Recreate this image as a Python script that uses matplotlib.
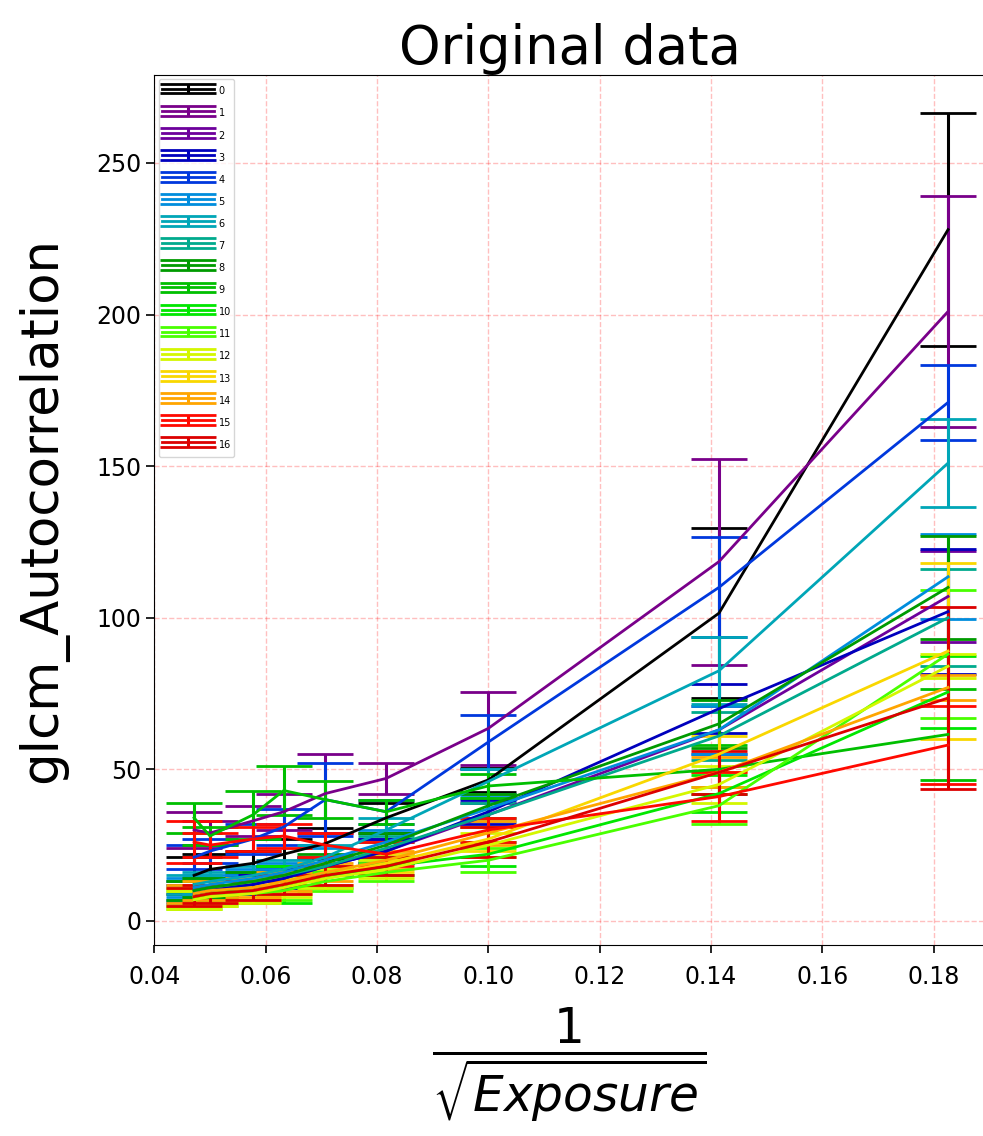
import numpy as np
import matplotlib
matplotlib.use('Agg')
import matplotlib.pyplot as plt

# x = 1/sqrt(exposure)
exposure = [450, 400, 300, 250, 200, 150, 100, 50, 30]
x_vals = [1 / np.sqrt(e) for e in exposure]

# mean glcm_Autocorrelation per series (same order as x_vals)
s0 = [15, 17, 19, 22, 25.5, 34, 46.5, 101.5, 228]
s1 = [30, 29, 33, 36, 42, 47, 63.5, 118.5, 201]
s2 = [10, 11, 12, 14, 18, 23, 35, 63, 107]
s3 = [9, 10, 12, 14, 18, 23, 36, 70, 102]
s4 = [21, 23, 27, 31, 40, 36, 59, 110, 171]
s5 = [11, 12, 14, 16, 20, 26, 37, 63, 113.5]
s6 = [12, 13, 15, 17, 21, 30, 46, 82.5, 151]
s7 = [10, 11, 13, 15, 18, 24, 35, 61, 100]
s8 = [10, 11, 13, 15, 19, 25, 38, 65, 110]
s9 = [34, 28, 35, 43, 40, 36, 44.5, 50, 61.5]
s10 = [8, 9, 10, 12, 14, 18, 22, 42, 75.5]
s11 = [7, 8, 9, 10, 13, 16, 20, 38, 88]
s12 = [7, 8, 9, 11, 14, 17, 25, 45, 84]
s13 = [8, 9, 10, 12, 15, 19, 27, 55, 89]
s14 = [9, 10, 11, 13, 16, 20, 29, 49, 77]
s15 = [26, 25, 27, 28, 25, 22, 30, 41, 58]
s16 = [8, 9, 10, 12, 15, 18, 26, 49, 73.5]

# standard deviation per series
e0 = [6, 5, 4, 5, 5, 5, 4, 28, 38.5]
e1 = [6, 4, 5, 6, 13, 5, 12, 34, 38]
e2 = [3, 3, 3, 3, 3, 4, 4, 8, 15]
e3 = [3, 3, 3, 3, 3, 4, 4, 8, 20.5]
e4 = [4, 4, 5, 6, 12, 4, 9, 16.5, 12.5]
e5 = [3, 3, 3, 3, 4, 4, 4, 8, 14]
e6 = [3, 3, 3, 3, 4, 4, 4, 11, 14.5]
e7 = [3, 3, 3, 3, 3, 4, 4, 8, 16]
e8 = [3, 3, 3, 3, 3, 4, 4, 8, 17]
e9 = [5, 3, 8, 8, 6, 4, 4, 8, 15]
e10 = [3, 3, 3, 6, 3, 3, 4, 6, 12]
e11 = [3, 3, 3, 3, 3, 3, 4, 6, 21]
e12 = [3, 3, 3, 3, 3, 3, 4, 6, 4]
e13 = [3, 3, 3, 3, 3, 3, 4, 6, 29]
e14 = [3, 3, 3, 3, 3, 3, 4, 5, 4]
e15 = [7, 4, 4, 4, 4, 4, 4, 8, 13]
e16 = [3, 3, 3, 3, 3, 3, 5, 7, 30]

labels = [str(i) for i in range(17)]
means = [s0, s1, s2, s3, s4, s5, s6, s7, s8, s9, s10, s11, s12, s13, s14, s15, s16]
stds = [e0, e1, e2, e3, e4, e5, e6, e7, e8, e9, e10, e11, e12, e13, e14, e15, e16]

colors = plt.cm.nipy_spectral(np.linspace(0, 0.9, len(labels)))

fig = plt.figure(figsize=(9.83, 11.36), dpi=100)
ax = fig.add_axes([0.157, 0.168, 0.845, 0.766])

for m, s, c, lab in zip(means, stds, colors, labels):
    ax.errorbar(x_vals, m, yerr=s, color=c, label=lab, lw=2,
                elinewidth=2.2, capsize=20, capthick=2)

ax.grid(True, color='red', linestyle='--', alpha=0.25, lw=1)
ax.set_xlim(0.04, 0.1892)
ax.set_ylim(-8, 279)
ax.set_xticks([0.04, 0.06, 0.08, 0.10, 0.12, 0.14, 0.16, 0.18])
ax.set_yticks([0, 50, 100, 150, 200, 250])
ax.tick_params(labelsize=17, length=6, width=1.2)
ax.tick_params(axis='x', pad=8)

ax.set_title('Original data', fontsize=38)
ax.set_ylabel('glcm_Autocorrelation', fontsize=37, labelpad=20)
ax.set_xlabel(r'$\dfrac{1}{\sqrt{Exposure}}$', fontsize=35, labelpad=12)

ax.legend(loc='upper left', fontsize=7, handlelength=5.3, handleheight=2.35,
          labelspacing=0.5, borderaxespad=0.45, borderpad=0.35, handletextpad=0.5)

fig.savefig('out.png', dpi=100)
